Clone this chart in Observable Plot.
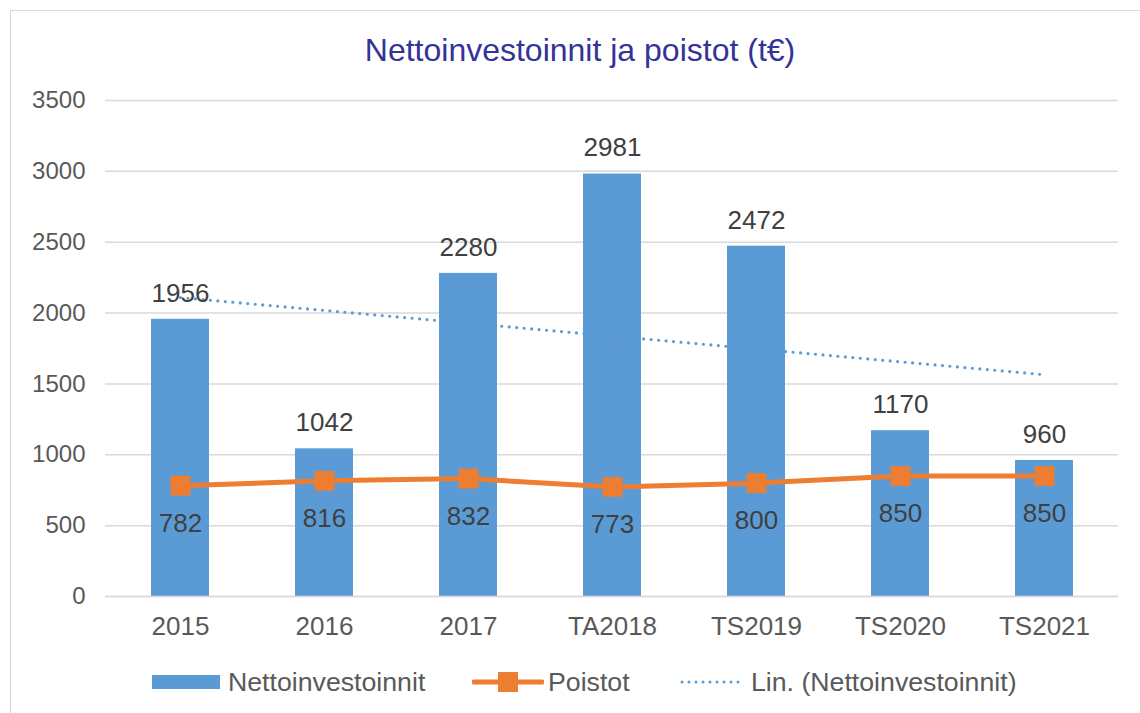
<!DOCTYPE html>
<html>
<head>
<meta charset="utf-8">
<script src="https://cdn.jsdelivr.net/npm/d3@7"></script>
<script src="https://cdn.jsdelivr.net/npm/@observablehq/plot@0.6"></script>
<style>
  html, body { margin: 0; padding: 0; background: #fff; }
  body { width: 1140px; height: 713px; position: relative; overflow: hidden; font-family: "Liberation Sans", Arial, sans-serif; }
  #frame { position: absolute; left: 10px; top: 10px; width: 1140px; height: 720px; border: 1px solid #d9d9d9; box-sizing: border-box; }
  #title { position: absolute; left: 10px; width: 1140px; top: 30px; height: 40px; line-height: 40px; text-align: center; font-size: 32px; color: #333399; }
  #chart { position: absolute; left: 0; top: 80px; }
  #legend { position: absolute; left: 0; top: 664px; height: 36px; width: 1140px; font-size: 26.7px; color: #595959; }
  .item { position: absolute; top: 0; height: 36px; line-height: 36px; display: flex; align-items: center; }
  .item svg { display: block; }
</style>
</head>
<body>
<div id="frame"></div>
<div id="title">Nettoinvestoinnit ja poistot (t€)</div>
<div id="chart"></div>
<div id="legend">
  <div class="item" style="left:152px"><svg width="68" height="14" style="margin-right:8px"><rect width="68" height="14" fill="#5B9BD5"/></svg>Nettoinvestoinnit</div>
  <div class="item" style="left:472px"><svg width="72" height="24" style="margin-right:4px"><line x1="2" y1="12" x2="70" y2="12" stroke="#ED7D31" stroke-width="5" stroke-linecap="round"/><rect x="26" y="2" width="20" height="20" fill="#ED7D31"/></svg>Poistot</div>
  <div class="item" style="left:680px"><svg width="66" height="10" style="margin-right:5px"><line x1="2" y1="5" x2="64" y2="5" stroke="#5B9BD5" stroke-width="3" stroke-dasharray="0 7" stroke-linecap="round"/></svg>Lin. (Nettoinvestoinnit)</div>
</div>
<script>
const categories = ["2015", "2016", "2017", "TA2018", "TS2019", "TS2020", "TS2021"];
const nettoinvestoinnit = [1956, 1042, 2280, 2981, 2472, 1170, 960];
const poistot = [782, 816, 832, 773, 800, 850, 850];
const yTicks = [0, 500, 1000, 1500, 2000, 2500, 3000, 3500];

const rows = categories.map((c, i) => ({cat: c, netto: nettoinvestoinnit[i], poisto: poistot[i], idx: i + 1}));

// Linear trend of Nettoinvestoinnit (least squares)
const mx = d3.mean(rows, d => d.idx);
const my = d3.mean(rows, d => d.netto);
const slope = d3.sum(rows, d => (d.idx - mx) * (d.netto - my)) / d3.sum(rows, d => (d.idx - mx) ** 2);
const trend = rows.map(d => ({cat: d.cat, v: my + slope * (d.idx - mx)}));

const font = "Liberation Sans, Arial, sans-serif";

const chart = Plot.plot({
  width: 1140,
  height: 560,
  marginLeft: 105,
  marginRight: 22,
  marginTop: 20,
  marginBottom: 44,
  style: {fontFamily: font, background: "transparent", overflow: "visible"},
  x: {domain: categories, paddingInner: 0.6, paddingOuter: 0.3, label: null},
  y: {domain: [0, 3500], label: null},
  marks: [
    Plot.gridY(yTicks, {stroke: "#d9d9d9", strokeOpacity: 1, strokeWidth: 1.5}),
    Plot.barY(rows, {x: "cat", y: "netto", fill: "#5B9BD5"}),
    Plot.ruleY([0], {stroke: "#d9d9d9", strokeWidth: 1.5}),
    Plot.line(trend, {x: "cat", y: "v", stroke: "#5B9BD5", strokeWidth: 3.2, strokeDasharray: "0 7.5", strokeLinecap: "round"}),
    Plot.line(rows, {x: "cat", y: "poisto", stroke: "#ED7D31", strokeWidth: 5}),
    Plot.dot(rows, {x: "cat", y: "poisto", symbol: "square", r: 11.2, fill: "#ED7D31", stroke: "none"}),
    Plot.text(rows, {x: "cat", y: "netto", text: d => String(d.netto), dy: -26, fontSize: 26, fill: "#404040", lineAnchor: "middle"}),
    Plot.text(rows, {x: "cat", y: "poisto", text: d => String(d.poisto), dy: 38, fontSize: 26, fill: "#404040", lineAnchor: "middle"}),
    Plot.axisY(yTicks, {tickSize: 0, tickPadding: 20, fontSize: 24, fill: "#595959", tickFormat: d => String(d), label: null}),
    Plot.axisX({tickSize: 0, tickPadding: 20, fontSize: 26, fill: "#595959", label: null})
  ]
});
document.getElementById("chart").appendChild(chart);
</script>
</body>
</html>
